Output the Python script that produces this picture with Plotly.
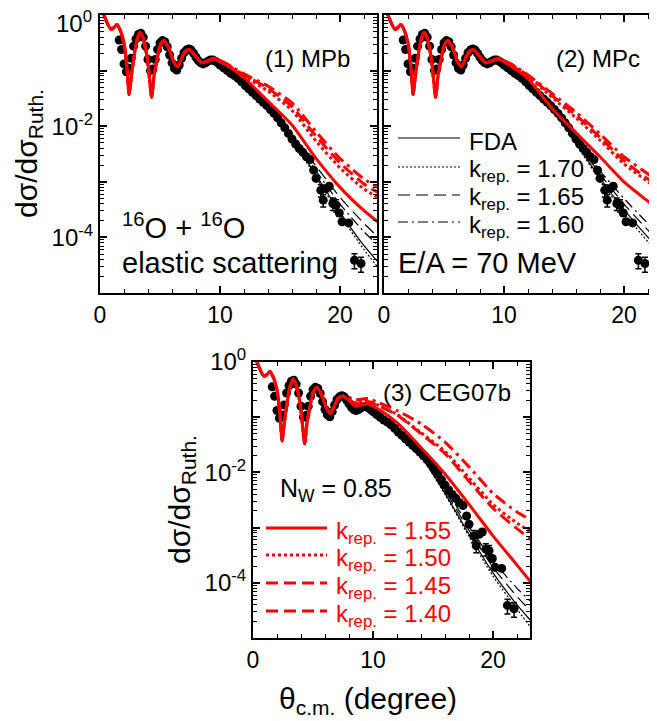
import plotly.graph_objects as go

W, H = 657, 721          # browser window
PAGE_OFF = 8             # default page margin before the plot div
FW, FH = W - PAGE_OFF, H - PAGE_OFF
FONT = "Liberation Sans, Arial, sans-serif"

# ---------------- data ----------------
# low-angle part (degree) where all calculations coincide
THETA_LOW = [0.3, 0.55, 0.9, 1.15, 1.4, 1.7, 2.03, 2.25, 2.42, 2.6, 2.8, 3.05, 3.33, 3.6,
             3.85, 4.05, 4.3, 4.5, 4.75, 5.0, 5.3, 5.6, 5.85, 6.1, 6.45, 6.8, 7.1, 7.45]
SIGMA_LOW = [1.047, 0.759, 0.550, 0.589, 0.676, 0.525, 0.288, 0.110, 0.0372, 0.0759, 0.158,
             0.331, 0.490, 0.380, 0.219, 0.105, 0.0331, 0.0794, 0.158, 0.275, 0.347, 0.288,
             0.219, 0.151, 0.117, 0.166, 0.219, 0.240]
THETA_TAIL = [7.8, 8.5, 9.5, 10.5, 12, 14, 16, 18, 20, 22, 23.2]

# panel (1) MPb
P1_RED_155 = [0.200, 0.138, 0.162, 0.126, 0.0741, 0.0282, 0.0105, 0.00263, 7.94e-4, 3.02e-4, 1.86e-4]
P1_RED_150 = [0.200, 0.138, 0.162, 0.129, 0.0794, 0.0427, 0.0191, 0.00537, 0.00178, 7.41e-4, 5.13e-4]
P1_RED_145 = [0.200, 0.138, 0.166, 0.132, 0.0832, 0.0479, 0.0224, 0.00661, 0.00219, 9.12e-4, 6.31e-4]
P1_RED_140 = [0.200, 0.138, 0.166, 0.135, 0.0871, 0.0525, 0.0263, 0.00794, 0.00263, 0.00112, 7.76e-4]
P1_FDA = [0.200, 0.138, 0.158, 0.120, 0.0661, 0.0234, 0.00603, 0.00132, 2.82e-4, 7.08e-5, 3.55e-5]
P1_BLK_170 = [0.200, 0.138, 0.158, 0.120, 0.0661, 0.0229, 0.00575, 0.00120, 2.51e-4, 6.03e-5, 2.82e-5]
P1_BLK_165 = [0.200, 0.138, 0.158, 0.120, 0.0676, 0.0251, 0.00708, 0.00191, 5.25e-4, 1.78e-4, 1.00e-4]
P1_BLK_160 = [0.200, 0.138, 0.158, 0.120, 0.0676, 0.0240, 0.00661, 0.00158, 3.98e-4, 1.26e-4, 7.08e-5]

# panel (2) MPc
P2_RED_155 = [0.200, 0.138, 0.162, 0.123, 0.0708, 0.0209, 0.00759, 0.00282, 1.00e-3, 4.47e-4, 2.82e-4]
P2_RED_150 = [0.200, 0.138, 0.162, 0.129, 0.0794, 0.0331, 0.0141, 0.00562, 0.00209, 1.00e-3, 6.31e-4]
P2_RED_145 = [0.200, 0.138, 0.166, 0.132, 0.0813, 0.0355, 0.0158, 0.00631, 0.00240, 0.00112, 7.59e-4]
P2_RED_140 = [0.200, 0.138, 0.166, 0.135, 0.0832, 0.0389, 0.0178, 0.00724, 0.00282, 0.00138, 9.12e-4]
P2_FDA = [0.200, 0.138, 0.158, 0.120, 0.0661, 0.0219, 0.00501, 0.00117, 3.16e-4, 1.00e-4, 5.25e-5]
P2_BLK_170 = [0.200, 0.138, 0.158, 0.120, 0.0661, 0.0214, 0.00468, 0.00107, 2.75e-4, 8.32e-5, 4.37e-5]
P2_BLK_165 = [0.200, 0.138, 0.158, 0.120, 0.0676, 0.0229, 0.00550, 0.00138, 3.98e-4, 1.35e-4, 7.59e-5]
P2_BLK_160 = [0.200, 0.138, 0.158, 0.120, 0.0692, 0.0240, 0.00603, 0.00158, 5.01e-4, 1.78e-4, 1.05e-4]

# panel (3) CEG07b
P3_RED_155 = [0.219, 0.158, 0.174, 0.138, 0.0794, 0.0282, 0.00933, 0.00263, 7.08e-4, 2.09e-4, 1.00e-4]
P3_RED_150 = [0.229, 0.182, 0.200, 0.162, 0.112, 0.0525, 0.0240, 0.00794, 0.00263, 0.00120, 8.32e-4]
P3_RED_145 = [0.229, 0.178, 0.195, 0.158, 0.110, 0.0501, 0.0219, 0.00692, 0.00224, 9.55e-4, 6.03e-4]
P3_RED_140 = [0.240, 0.204, 0.219, 0.182, 0.132, 0.0759, 0.0355, 0.0126, 0.00417, 0.00191, 0.00135]
P3_FDA = [0.200, 0.138, 0.158, 0.117, 0.0603, 0.0200, 0.00417, 7.59e-4, 1.51e-4, 3.98e-5, 2.00e-5]
P3_BLK_170 = [0.200, 0.138, 0.158, 0.117, 0.0603, 0.0195, 0.00398, 6.92e-4, 1.32e-4, 3.31e-5, 1.51e-5]
P3_BLK_165 = [0.200, 0.138, 0.158, 0.117, 0.0617, 0.0209, 0.00468, 8.91e-4, 1.91e-4, 5.62e-5, 3.02e-5]
P3_BLK_160 = [0.200, 0.138, 0.158, 0.117, 0.0631, 0.0224, 0.00525, 0.00105, 2.51e-4, 7.94e-5, 4.47e-5]

# experimental data
DATA_THETA = [1.6, 1.8, 2.0, 2.2, 2.4, 2.6, 2.8, 3.0, 3.2, 3.4, 3.6, 3.8, 4.0, 4.2, 4.4, 4.6,
              4.8, 5.0, 5.2, 5.4, 5.6, 5.8, 6.0, 6.2, 6.4, 6.6, 6.8, 7.0, 7.2, 7.4, 7.6, 7.8,
              8.0, 8.2, 8.4, 8.6, 8.8, 9.0, 9.2, 9.4, 9.6, 9.8, 10.0, 10.3, 10.6, 10.9, 11.2,
              11.5, 11.8, 12.1, 12.4, 12.7, 13.0, 13.3, 13.6, 13.9, 14.2, 14.5, 14.8, 15.1,
              15.4, 15.7, 16.0, 16.3, 16.6, 16.9, 17.2, 17.5, 17.8, 18.0, 18.4, 18.6, 18.85,
              19.1, 19.4, 19.67, 19.94, 20.17, 20.72, 21.2, 21.75]
DATA_SIGMA = [0.355, 0.240, 0.132, 0.0955, 0.110, 0.166, 0.275, 0.372, 0.447, 0.468, 0.398,
              0.275, 0.158, 0.100, 0.107, 0.158, 0.240, 0.316, 0.347, 0.331, 0.269, 0.191,
              0.138, 0.110, 0.102, 0.126, 0.166, 0.209, 0.234, 0.245, 0.234, 0.204, 0.174,
              0.151, 0.138, 0.132, 0.138, 0.148, 0.155, 0.155, 0.148, 0.138, 0.126, 0.112,
              0.100, 0.0891, 0.0813, 0.0724, 0.0631, 0.0537, 0.0468, 0.0407, 0.0355, 0.0309,
              0.0269, 0.0234, 0.0200, 0.0170, 0.0141, 0.0115, 0.00933, 0.00741, 0.00589,
              0.00479, 0.00398, 0.00339, 0.00282, 0.00251, 0.00162, 0.00115, 7.08e-4, 4.68e-4,
              7.59e-4, 8.32e-4, 4.07e-4, 3.80e-4, 2.75e-4, 1.91e-4, 1.82e-4, 3.89e-5, 3.39e-5]
DATA_REL_ERR = [0.05] * 68 + [0.08, 0.08, 0.25, 0.25, 0.12, 0.12, 0.25, 0.25, 0.12, 0.1, 0.1, 0.3, 0.3]

BLACK_LABELS = ["FDA", "k<sub>rep.</sub> = 1.70", "k<sub>rep.</sub> = 1.65", "k<sub>rep.</sub> = 1.60"]
RED_LABELS = ["k<sub>rep.</sub> = 1.55", "k<sub>rep.</sub> = 1.50", "k<sub>rep.</sub> = 1.45", "k<sub>rep.</sub> = 1.40"]
PANEL_LABELS = ["(1) MPb", "(2) MPc", "(3) CEG07b"]
X_TICKS = [0, 10, 20]
Y_TICKS = [1e-5, 1e-4, 1e-3, 1e-2, 1e-1, 1]
Y_TICKTEXT = ["", "10<sup>-4</sup>", "", "10<sup>-2</sup>", "", "10<sup>0</sup>"]
# the top label of panel (1) sits lower than its tick (it touches the page edge)
Y_TICKTEXT_P1 = ["", "10<sup>-4</sup>", "", "10<sup>-2</sup>", "", ""]
TOP_LABEL = "10<sup>0</sup>"

# ---------------- styles ----------------
RED = "#ff0000"
RED_DASH = ["solid", "3px,3px", "12px,6px", "12px,5px,3px,5px"]
RED_KEY_DASH = ["solid", "3px,3px", "12px,6px", "12px,6px"]   # the key shows 1.40 dashed
BLK_DASH = ["solid", "2px,2px", "12px,6px", "10px,4px,2px,4px"]


def px_x(p):
    return (p - PAGE_OFF) / FW


def px_y(p):
    return 1 - (p - PAGE_OFF) / FH


PANELS = [
    dict(ax="", red=[P1_RED_155, P1_RED_150, P1_RED_145, P1_RED_140],
         blk=[P1_FDA, P1_BLK_170, P1_BLK_165, P1_BLK_160], ytext=Y_TICKTEXT_P1,
         xd=[px_x(100), px_x(377)], yd=[px_y(293), px_y(15)], xmax=23.08),
    dict(ax="2", red=[P2_RED_155, P2_RED_150, P2_RED_145, P2_RED_140],
         blk=[P2_FDA, P2_BLK_170, P2_BLK_165, P2_BLK_160], ytext=Y_TICKTEXT,
         xd=[px_x(384), 1.0], yd=[px_y(293), px_y(15)], xmax=22.75),
    dict(ax="3", red=[P3_RED_155, P3_RED_150, P3_RED_145, P3_RED_140],
         blk=[P3_FDA, P3_BLK_170, P3_BLK_165, P3_BLK_160], ytext=Y_TICKTEXT,
         xd=[px_x(253), px_x(530)], yd=[px_y(638), px_y(362)], xmax=23.08),
]

fig = go.Figure()
theta_curve = THETA_LOW + THETA_TAIL

for i, p in enumerate(PANELS):
    xa, ya = "x" + p["ax"], "y" + p["ax"]
    fig.add_trace(go.Scatter(
        x=DATA_THETA, y=DATA_SIGMA, mode="markers", xaxis=xa, yaxis=ya, showlegend=False,
        marker=dict(color="black", size=9),
        error_y=dict(type="data", array=[s * e for s, e in zip(DATA_SIGMA, DATA_REL_ERR)],
                     color="black", thickness=1.5, width=3)))
    for k, tail in enumerate(p["blk"]):
        fig.add_trace(go.Scatter(
            x=theta_curve, y=SIGMA_LOW + tail, mode="lines", xaxis=xa, yaxis=ya,
            line=dict(color="black", width=1.2, dash=BLK_DASH[k], shape="spline", smoothing=0.6),
            name=BLACK_LABELS[k], showlegend=False))
    for k, tail in enumerate(p["red"]):
        fig.add_trace(go.Scatter(
            x=theta_curve, y=SIGMA_LOW + tail, mode="lines", xaxis=xa, yaxis=ya,
            line=dict(color=RED, width=3, dash=RED_DASH[k], shape="spline", smoothing=0.6),
            name=RED_LABELS[k], showlegend=False))

axis_common = dict(showline=True, linecolor="black", linewidth=2, mirror="ticks",
                   ticks="inside", tickcolor="black", tickwidth=1.5, ticklen=7,
                   showgrid=False, zeroline=False, automargin=False,
                   ticklabeloverflow="allow")

layout = dict(width=FW, height=FH, margin=dict(l=0, r=0, t=0, b=0, autoexpand=False),
              paper_bgcolor="white", plot_bgcolor="white", showlegend=False,
              font=dict(family=FONT, color="black"))

minor_y = [m * 10 ** d for d in range(-5, 0) for m in range(2, 10)]
for i, p in enumerate(PANELS):
    sfx = p["ax"]
    layout["xaxis" + sfx] = dict(axis_common, domain=p["xd"], range=[0, p["xmax"]],
                                 anchor="y" + sfx, tickmode="array", tickvals=X_TICKS,
                                 tickfont=dict(family=FONT, size=23, color="black"),
                                 minor=dict(dtick=2, tick0=0, ticks="inside", ticklen=4,
                                            tickwidth=1.2, tickcolor="black"))
    layout["yaxis" + sfx] = dict(axis_common, domain=p["yd"], type="log", range=[-5, 0],
                                 anchor="x" + sfx, tickmode="array", tickvals=Y_TICKS,
                                 ticktext=p["ytext"], showticklabels=(i != 1),
                                 tickfont=dict(family=FONT, size=24, color="black"),
                                 minor=dict(tickmode="array", tickvals=minor_y, ticks="inside",
                                            ticklen=4, tickwidth=1.2, tickcolor="black"))

ann = []
shapes = []


def text(xp, yp, s, size, xanchor="left", angle=0, color="black"):
    ann.append(dict(x=px_x(xp), y=px_y(yp), xref="paper", yref="paper", text=s,
                    showarrow=False, xanchor=xanchor, yanchor="middle", textangle=angle,
                    font=dict(family=FONT, size=size, color=color)))


def key_row(x0, x1, yp, dash, color, width, label):
    shapes.append(dict(type="line", xref="paper", yref="paper",
                       x0=px_x(x0), x1=px_x(x1), y0=px_y(yp), y1=px_y(yp),
                       line=dict(color=color, width=width, dash=dash)))
    text(x1 + 7, yp + 4, label, 24, "left", color=color)


# keys
for k, yp in enumerate([138, 167, 195, 222]):
    key_row(398, 460, yp, BLK_DASH[k], "black", 1.2, BLACK_LABELS[k])
for k, yp in enumerate([528, 555, 583, 611]):
    key_row(266, 327, yp, RED_KEY_DASH[k], RED, 3, RED_LABELS[k])

text(94, 22, TOP_LABEL, 24, "right")
text(352, 58, PANEL_LABELS[0], 24, "right")
text(642, 58, PANEL_LABELS[1], 24, "right")
text(513, 392, PANEL_LABELS[2], 24, "right")
text(120, 226, "<sup>16</sup>O + <sup>16</sup>O", 29)
text(120, 263, "elastic scattering", 29)
text(396, 263, "E/A = 70 MeV", 29)
text(278, 490, "N<sub>W</sub> = 0.85", 25)
text(28, 154, "dσ/dσ<sub>Ruth.</sub>", 30, "center", -90)
text(181, 500, "dσ/dσ<sub>Ruth.</sub>", 30, "center", -90)
text(368, 700, "θ<sub>c.m.</sub> (degree)", 30, "center")
layout["annotations"] = ann
layout["shapes"] = shapes

fig.update_layout(**layout)
fig.write_html("out.html")
